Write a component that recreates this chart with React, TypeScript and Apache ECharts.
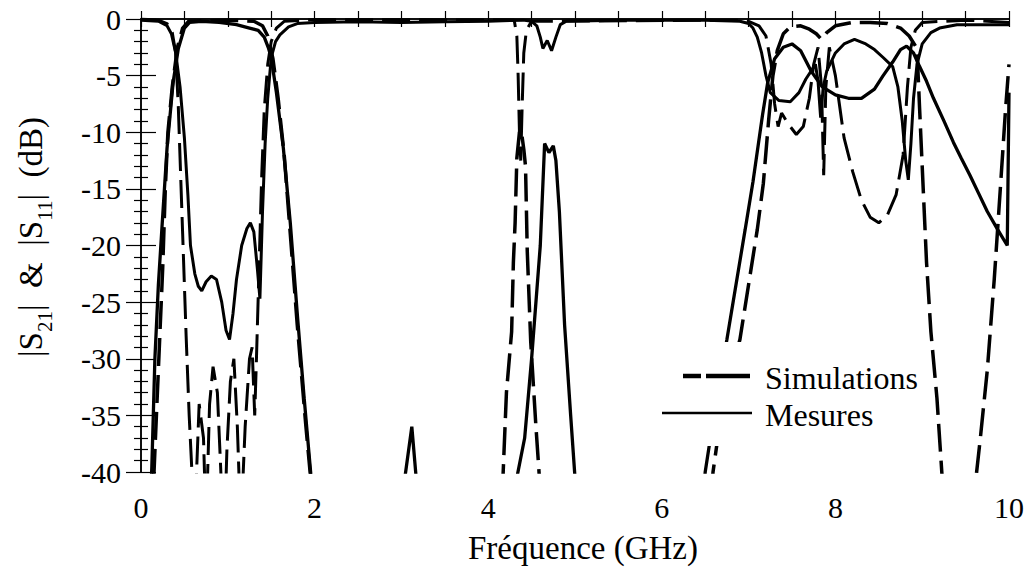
import React, { useEffect, useRef } from 'react';
import * as echarts from 'echarts';

// ---- data (frequency in GHz, level in dB) ----
const measS21F = [0, 0.1, 0.125, 0.16, 0.2, 0.24, 0.3, 0.37, 0.43, 0.5, 0.56, 0.7, 0.9, 1.1, 1.25, 1.35, 1.42, 1.47, 1.5, 1.56, 1.64, 1.72, 1.8, 1.88, 1.96, 2.05, 3.0, 3.04, 3.12, 3.17, 3.25, 4.25, 4.33, 4.42, 4.5, 4.6, 4.65, 4.7, 4.75, 4.78, 4.82, 4.88, 4.95, 5.0, 5.1, 6.4, 6.5, 6.6, 6.75, 6.96, 7.05, 7.16, 7.22, 7.3, 7.4, 7.5, 7.6, 7.72, 7.85, 8.0, 8.15, 8.3, 8.45, 8.55, 8.66, 8.75, 8.82, 8.9, 8.97, 9.05, 9.13, 9.25, 9.36, 9.45, 9.55, 9.65, 9.75, 9.87, 9.98, 10.0];
const measS21V = [-55, -45, -39.5, -30, -23.5, -18.6, -11.4, -5.6, -2.6, -0.8, -0.3, -0.2, -0.3, -0.5, -0.8, -1.0, -1.6, -2.6, -3.4, -6.5, -11.4, -18, -26, -33.5, -40.5, -48, -48, -40.5, -36, -40.5, -48, -48, -40.5, -37, -30, -20, -11, -11.8, -11.2, -12.5, -17, -27, -35, -40.5, -50, -50, -40, -35, -28.3, -18.6, -14.4, -8.5, -5.6, -3.5, -2.5, -2.2, -2.8, -4.6, -6, -6.7, -7, -7, -6.2, -5, -3.8, -2.7, -2.4, -3, -4.2, -5.5, -7, -9, -10.9, -12.3, -13.8, -15.4, -17, -18.6, -20, -6.5];

const measS11F = [0, 0.2, 0.3, 0.35, 0.4, 0.45, 0.5, 0.54, 0.57, 0.62, 0.66, 0.7, 0.75, 0.81, 0.87, 0.93, 0.98, 1.02, 1.06, 1.1, 1.16, 1.22, 1.26, 1.3, 1.34, 1.37, 1.4, 1.43, 1.46, 1.5, 1.55, 1.6, 1.7, 1.8, 2.0, 2.5, 3.0, 3.5, 4.0, 4.4, 4.5, 4.56, 4.6, 4.63, 4.68, 4.73, 4.78, 4.83, 4.9, 5.5, 6.5, 6.9, 7.0, 7.05, 7.1, 7.15, 7.2, 7.25, 7.35, 7.48, 7.58, 7.66, 7.72, 7.77, 7.8, 7.83, 7.86, 7.9, 8.0, 8.1, 8.22, 8.35, 8.45, 8.55, 8.66, 8.72, 8.77, 8.81, 8.84, 8.87, 8.9, 8.94, 9.0, 9.1, 9.2, 9.4, 10.0];
const measS11V = [-0.1, -0.2, -0.6, -1.3, -3, -6, -10.5, -15.5, -20, -22.5, -23.6, -24, -23.2, -22.7, -23, -25, -27.5, -28.3, -26, -23, -20, -18.5, -18, -18.8, -22, -24.7, -17, -11, -7, -3.4, -2, -1.4, -0.7, -0.4, -0.3, -0.25, -0.3, -0.25, -0.2, -0.1, -0.2, -0.6, -1.6, -2.6, -1.9, -2.8, -1.6, -0.5, -0.2, -0.1, -0.1, -0.2, -0.4, -0.8, -1.6, -3, -5, -6.5, -7.2, -7.3, -6.5, -5.3, -4.6, -4, -5.5, -8.7, -6, -4.6, -3, -2.2, -1.8, -2.2, -2.7, -3.4, -4.2, -6, -9, -12.5, -14.2, -11, -7, -4, -2.2, -1.2, -0.8, -0.5, -0.5];

const simS21F = [0, 0.12, 0.15, 0.2, 0.25, 0.28, 0.31, 0.36, 0.42, 0.48, 0.55, 1.0, 1.3, 1.4, 1.46, 1.52, 1.58, 1.65, 1.72, 1.8, 1.9, 1.96, 2.05, 4.1, 4.17, 4.21, 4.27, 4.29, 4.31, 4.33, 4.36, 4.38, 4.41, 4.43, 4.45, 4.49, 4.55, 4.59, 4.65, 6.5, 6.59, 6.7, 6.9, 7.1, 7.17, 7.23, 7.28, 7.33, 7.4, 7.48, 7.6, 7.7, 7.78, 7.84, 7.9, 8.0, 8.2, 8.4, 8.6, 8.75, 8.85, 8.94, 8.97, 9.05, 9.1, 9.17, 9.23, 9.3, 9.55, 9.62, 9.67, 9.75, 9.83, 9.9, 9.96, 10.0];
const simS21V = [-60, -46, -40, -31, -22, -15, -10, -6, -2.5, -0.8, -0.2, -0.1, -0.2, -0.6, -1.5, -3.5, -7, -12, -19, -27, -36, -41, -50, -50, -40.5, -33, -27.6, -21.5, -18, -12.3, -10, -9.8, -11.5, -13, -20.5, -28.5, -36, -40.5, -50, -50, -40, -34, -28.3, -18.6, -14.5, -9, -5, -2.8, -1.3, -0.7, -0.6, -0.9, -1.3, -1.8, -1.2, -0.6, -0.3, -0.3, -0.4, -0.8, -1.5, -2.6, -7.9, -21.5, -27.6, -33.5, -40.5, -50, -50, -40.5, -37, -31, -23, -15, -8, -4];

const simS11F = [0, 0.2, 0.3, 0.36, 0.4, 0.43, 0.48, 0.52, 0.555, 0.59, 0.62, 0.64, 0.67, 0.72, 0.75, 0.79, 0.83, 0.88, 0.92, 0.95, 0.99, 1.03, 1.07, 1.11, 1.15, 1.2, 1.25, 1.28, 1.31, 1.33, 1.36, 1.39, 1.42, 1.46, 1.5, 1.56, 1.65, 2.0, 4.3, 4.33, 4.345, 4.36, 4.375, 4.39, 4.41, 4.44, 4.5, 6.9, 7.0, 7.12, 7.2, 7.26, 7.3, 7.34, 7.38, 7.45, 7.55, 7.63, 7.7, 7.75, 7.8, 7.84, 7.865, 7.89, 7.93, 8.0, 8.1, 8.2, 8.3, 8.4, 8.5, 8.6, 8.7, 8.78, 8.83, 8.87, 8.92, 9.0, 9.5, 10.0];
const simS11V = [0, -0.1, -0.4, -1.2, -3, -7.8, -19, -28, -35, -40.5, -48, -40, -34, -37, -45, -34, -30.7, -33, -40, -48, -38, -32, -30, -36, -45, -36, -30, -29, -35, -30, -22, -14, -8, -4, -2, -0.8, -0.2, -0.05, -0.1, -1.5, -5, -10, -12.5, -8, -3, -1, -0.2, -0.1, -0.2, -0.6, -1.5, -4, -7.5, -9.5, -8.3, -9.2, -10.2, -9.5, -7, -4, -2.5, -6, -13.8, -6, -2.5, -5, -10.5, -13.5, -16, -17.5, -18, -17.3, -15.5, -12, -6, -2.5, -1, -0.3, -0.1, -0.3];

const xLabelValues = [0, 2, 4, 6, 8, 10];
const legendNames = ['Simulations', 'Mesures'];

const zip = (f: number[], v: number[]) => f.map((x, i) => [x, v[i]]);

const FONT = 'Liberation Serif';

export default function App() {
  const ref = useRef<HTMLDivElement>(null);
  useEffect(() => {
    if (!ref.current) return;
    const chart = echarts.init(ref.current, null, { renderer: 'svg' });
    const axisLine = { show: true, lineStyle: { color: '#000', width: 1.5 } };
    const xTick = { show: true, inside: true, length: 8, lineStyle: { color: '#000', width: 1.2 } };
    const yTick = { show: true, inside: true, length: 15, lineStyle: { color: '#000', width: 1.2 } };
    const yMinor = { show: true, splitNumber: 5, length: 7, lineStyle: { color: '#000', width: 1.2 } };
    const dashed = [28, 9];
    const lineSeries = (name: string, f: number[], v: number[], type: any, width: number) => ({
      name,
      type: 'line',
      data: zip(f, v),
      showSymbol: false,
      symbol: 'none',
      clip: true,
      lineStyle: { color: '#000', width, type },
      z: 3,
    });
    chart.setOption({
      animation: false,
      backgroundColor: '#fff',
      grid: { left: 141, right: 18, top: 19, bottom: 96 },
      xAxis: [
        {
          type: 'value', min: 0, max: 10, interval: 0.5, position: 'bottom',
          axisLine, axisTick: xTick, splitLine: { show: false },
          axisLabel: {
            margin: 20, color: '#000', fontFamily: FONT, fontSize: 30,
            formatter: (v: number) => (xLabelValues.some((t) => Math.abs(t - v) < 1e-6) ? String(v) : ''),
          },
        },
        {
          type: 'value', min: 0, max: 10, interval: 0.5, position: 'top',
          axisLine, axisTick: xTick, splitLine: { show: false }, axisLabel: { show: false },
        },
      ],
      yAxis: [
        {
          type: 'value', min: -40, max: 0, interval: 5, position: 'left',
          axisLine, axisTick: yTick, minorTick: yMinor, splitLine: { show: false },
          axisLabel: { margin: 20, color: '#000', fontFamily: FONT, fontSize: 30 },
        },
        {
          type: 'value', min: -40, max: 0, interval: 5, position: 'right',
          axisLine, axisTick: yTick, minorTick: yMinor, splitLine: { show: false },
          axisLabel: { show: false },
        },
      ],
      series: [
        lineSeries('S21 ' + legendNames[0], simS21F, simS21V, dashed, 3.5),
        lineSeries('S11 ' + legendNames[0], simS11F, simS11V, dashed, 3),
        lineSeries('S21 ' + legendNames[1], measS21F, measS21V, 'solid', 3.3),
        lineSeries('S11 ' + legendNames[1], measS11F, measS11V, 'solid', 3),
      ],
      graphic: [
        { type: 'rect', z: 100, shape: { x: 655, y: 342, width: 270, height: 104 }, style: { fill: '#fff' } },
        { type: 'line', z: 101, shape: { x1: 683, y1: 376, x2: 701, y2: 376 }, style: { stroke: '#000', lineWidth: 4.5 } },
        { type: 'line', z: 101, shape: { x1: 706, y1: 376, x2: 750, y2: 376 }, style: { stroke: '#000', lineWidth: 4.5 } },
        { type: 'text', z: 101, x: 765, y: 378, style: { text: legendNames[0], fill: '#000', fontFamily: FONT, fontSize: 32, textAlign: 'left', textVerticalAlign: 'middle' } },
        { type: 'line', z: 101, shape: { x1: 662, y1: 413, x2: 752, y2: 413 }, style: { stroke: '#000', lineWidth: 2.5 } },
        { type: 'text', z: 101, x: 765, y: 415, style: { text: legendNames[1], fill: '#000', fontFamily: FONT, fontSize: 32, textAlign: 'left', textVerticalAlign: 'middle' } },
        { type: 'text', z: 101, x: 583, y: 548, style: { text: 'Fréquence (GHz)', fill: '#000', fontFamily: FONT, fontSize: 33, textAlign: 'center', textVerticalAlign: 'middle' } },
        {
          type: 'text', z: 101, x: 31, y: 237, rotation: Math.PI / 2,
          style: {
            text: '{m||S}{s|21}{m||  &  |S}{s|11}{m||  (dB)}',
            fill: '#000', textAlign: 'center', textVerticalAlign: 'middle',
            rich: {
              m: { fontFamily: FONT, fontSize: 33, lineHeight: 33, verticalAlign: 'top', fill: '#000' },
              s: { fontFamily: FONT, fontSize: 21, lineHeight: 21, padding: [20, 0, 0, 0], verticalAlign: 'top', fill: '#000' },
            },
          },
        },
      ],
    });
    return () => chart.dispose();
  }, []);
  return <div ref={ref} style={{ position: 'fixed', left: 0, top: 0, width: 1027, height: 568, background: '#fff' }} />;
}
